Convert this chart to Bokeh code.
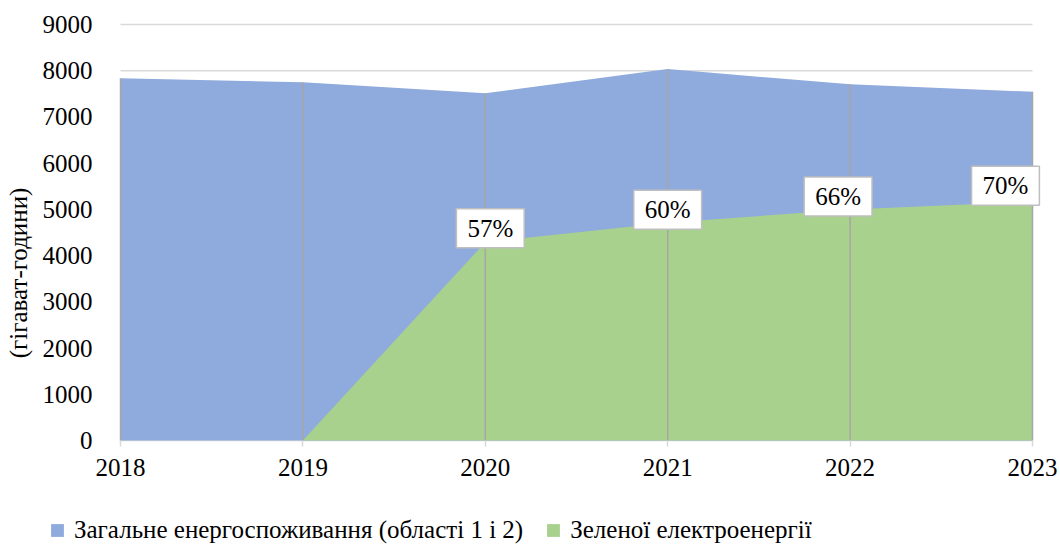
from bokeh.plotting import figure
from bokeh.models import Range1d, FixedTicker, Legend, LegendItem, Label
from bokeh.embed import file_html
from bokeh.resources import INLINE

# ---- data ----
years = [2018, 2019, 2020, 2021, 2022, 2023]
total = [7835, 7750, 7510, 8035, 7705, 7545]
green = [0, 0, 4290, 4710, 5000, 5165]
pct_years = [2020, 2021, 2022, 2023]
pct_vals = [4290, 4710, 5000, 5165]
pct_labels = ["57%", "60%", "66%", "70%"]
y_ticks = [0, 1000, 2000, 3000, 4000, 5000, 6000, 7000, 8000, 9000]
series_names = ["Загальне енергоспоживання (області 1 і 2)", "Зеленої електроенергії"]
y_title = "(гігават-години)"

# ---- style / layout ----
FONT = "Times New Roman"
TXT = "black"
BLUE = "#8faadc"
GREEN = "#a9d18e"
W, H = 1060, 545
PLOT_L, PLOT_R, PLOT_T, PLOT_B = 120, 1032, 24, 440   # pixel box of the data area
label_dx = [5, 0, -12, -27]
label_dy = [14, 13, 13, 16]

x0, x1 = years[0], years[-1]
y0, y1 = y_ticks[0], y_ticks[-1]
ppx = (PLOT_R - PLOT_L) / (x1 - x0)
ppy = (PLOT_B - PLOT_T) / (y1 - y0)
x_range = Range1d(x0 - PLOT_L / ppx, x1 + (W - PLOT_R) / ppx)
y_range = Range1d(y0 - (H - PLOT_B) / ppy, y1 + PLOT_T / ppy)

p = figure(width=W, height=H, output_backend="svg", toolbar_location=None,
           x_range=x_range, y_range=y_range, min_border=0)
p.outline_line_color = None
p.background_fill_color = "white"
p.xgrid.grid_line_color = None
p.ygrid.grid_line_color = None

# horizontal grid lines inside the data area
p.segment(x0=[x0] * len(y_ticks), y0=y_ticks, x1=[x1] * len(y_ticks), y1=y_ticks,
          line_color="#d9d9d9", line_width=1.5)

r_total = p.varea(x=years, y1=0, y2=total, fill_color=BLUE)
r_green = p.varea(x=years, y1=0, y2=green, fill_color=GREEN)
p.segment(x0=years, y0=0, x1=years, y1=total, line_color="#a6a6a6", line_width=1.5)

p.yaxis.fixed_location = x0
p.yaxis.ticker = FixedTicker(ticks=y_ticks)
p.yaxis.axis_line_color = None
p.yaxis.major_tick_line_color = None
p.yaxis.minor_tick_line_color = None
p.yaxis.major_label_standoff = 22
p.yaxis.major_label_text_font = FONT
p.yaxis.major_label_text_font_size = "25px"
p.yaxis.major_label_text_color = TXT
p.yaxis.axis_label = y_title
p.yaxis.axis_label_text_font = FONT
p.yaxis.axis_label_text_font_size = "25px"
p.yaxis.axis_label_text_font_style = "normal"
p.yaxis.axis_label_text_color = TXT
p.yaxis.axis_label_standoff = 8

p.xaxis.fixed_location = y0
p.xaxis.ticker = FixedTicker(ticks=years)
p.xaxis.axis_line_color = None
p.xaxis.major_tick_line_color = "#d9d9d9"
p.xaxis.major_tick_line_width = 1.5
p.xaxis.major_tick_in = 0
p.xaxis.major_tick_out = 6
p.xaxis.minor_tick_line_color = None
p.xaxis.major_label_standoff = 12
p.xaxis.major_label_text_font = FONT
p.xaxis.major_label_text_font_size = "25px"
p.xaxis.major_label_text_color = TXT

for yr, v, t, dx, dy in zip(pct_years, pct_vals, pct_labels, label_dx, label_dy):
    p.add_layout(Label(x=yr, y=v, text=t, x_offset=dx, y_offset=dy,
                       text_align="center", text_baseline="middle",
                       text_font=FONT, text_font_size="25px", text_color=TXT,
                       background_fill_color="white", border_line_color="#bfbfbf",
                       border_line_width=1.5,
                       padding=dict(left=11, right=11, top=6, bottom=6)))

legend = Legend(items=[LegendItem(label=series_names[0], renderers=[r_total]),
                       LegendItem(label=series_names[1], renderers=[r_green])],
                orientation="horizontal", location=(49, 1),
                glyph_width=16, glyph_height=16, label_standoff=9, spacing=22,
                padding=0, margin=0, border_line_color=None, background_fill_alpha=0,
                label_text_font=FONT, label_text_font_size="25px", label_text_color=TXT)
p.add_layout(legend, "center")

open("out.html", "w").write(file_html(p, INLINE))
